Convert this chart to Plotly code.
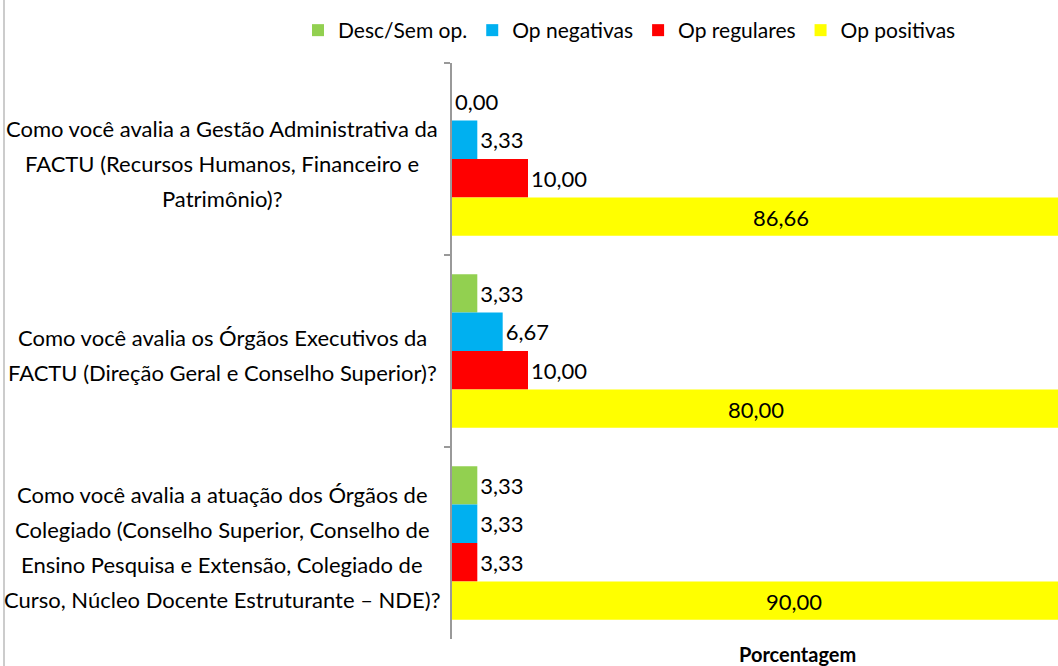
import plotly.graph_objects as go

categories = [
    "Como você avalia a Gestão Administrativa da<br>FACTU (Recursos Humanos, Financeiro e<br>Patrimônio)?",
    "Como você avalia os Órgãos Executivos da<br>FACTU (Direção Geral e Conselho Superior)?",
    "Como você avalia a atuação dos Órgãos de<br>Colegiado (Conselho Superior, Conselho de<br>Ensino Pesquisa e Extensão, Colegiado de<br>Curso, Núcleo Docente Estruturante – NDE)?",
]
series_names = ["Desc/Sem op.", "Op negativas", "Op regulares", "Op positivas"]
desc_sem_op = [0.00, 3.33, 3.33]
op_negativas = [3.33, 6.67, 3.33]
op_regulares = [10.00, 10.00, 3.33]
op_positivas = [86.66, 80.00, 90.00]
x_title = "Porcentagem"

colors = ["#92D050", "#00B0F0", "#FF0000", "#FFFF00"]
FONT = "Lato, Liberation Sans, Arial"
FS = 22

W, H = 1058, 666
ML, MR, MT, MB = 452, 0, 63, 27
PW, PH = W - ML - MR, H - MT - MB

def fmt(v):
    return f"{v:.2f}".replace(".", ",")

fig = go.Figure()
all_series = [desc_sem_op, op_negativas, op_regulares, op_positivas]
for i, (name, vals) in enumerate(zip(series_names, all_series)):
    big = i == 3
    fig.add_trace(go.Bar(
        y=categories, x=vals, name=name, orientation="h",
        marker=dict(color=colors[i], line=dict(width=0)),
        text=None if big else [fmt(v) for v in vals],
        textposition="none" if big else "outside",
        textfont=dict(family=FONT, size=FS, color="#000000"),
        constraintext="none",
        cliponaxis=big,
    ))

# labels of the long (clipped) bars, centred on the bar
for cat, v in zip(categories, op_positivas):
    fig.add_annotation(
        x=v / 2, xref="x", xanchor="center",
        y=cat, yref="y", yanchor="middle",
        yshift=-(3 * 38.5 / 2) - 1,
        text=fmt(v), showarrow=False,
        font=dict(family=FONT, size=FS, color="#000000"),
    )

fig.update_layout(
    width=W, height=H,
    margin=dict(l=ML, r=MR, t=MT, b=MB, pad=0, autoexpand=False),
    barmode="group", bargap=0.2, bargroupgap=0,
    plot_bgcolor="white", paper_bgcolor="white",
    font=dict(family=FONT, size=FS, color="#000000"),
    legend=dict(orientation="h", x=(298 - ML) / PW, xanchor="left", xref="paper",
                y=1 + (MT - 10) / PH, yref="paper", yanchor="top",
                font=dict(family=FONT, size=21), itemwidth=30,
                tracegroupgap=0, traceorder="normal"),
    xaxis=dict(range=[0, PW / 7.6], showgrid=False, showticklabels=False,
               zeroline=False, showline=False, ticks=""),
    yaxis=dict(autorange="reversed", showticklabels=False, showgrid=False,
               showline=True, linecolor="#999999", linewidth=1.5,
               ticks="outside", tickson="boundaries", ticklen=6,
               tickcolor="#999999", tickwidth=1.5),
)

# category labels: one annotation per line, centered
LINE = 35
for cat in categories:
    lines = cat.split("<br>")
    n = len(lines)
    for j, ln in enumerate(lines):
        fig.add_annotation(
            x=0, xref="paper", xanchor="center", xshift=-(ML - 222),
            y=cat, yref="y", yanchor="middle",
            yshift=-((j - (n - 1) / 2) * LINE) - 4,
            text=ln, showarrow=False,
            font=dict(family=FONT, size=FS, color="#000000"),
        )

# axis title
fig.add_annotation(
    x=(797 - ML) / PW, xref="paper", xanchor="center",
    y=-(654 - MT - PH) / PH, yref="paper", yanchor="middle",
    text="<b>" + x_title + "</b>", showarrow=False,
    font=dict(family=FONT, size=20, color="#000000"),
)

# outer chart border (left)
fig.add_shape(type="line", xref="paper", yref="paper",
              x0=(4 - ML) / PW, x1=(4 - ML) / PW,
              y0=-MB / PH, y1=1 + MT / PH,
              line=dict(color="#BBBBBB", width=1.5))

fig.write_html("out.html", config={"displayModeBar": False},
               post_script="document.body.style.margin='0';document.body.style.overflow='hidden';")
